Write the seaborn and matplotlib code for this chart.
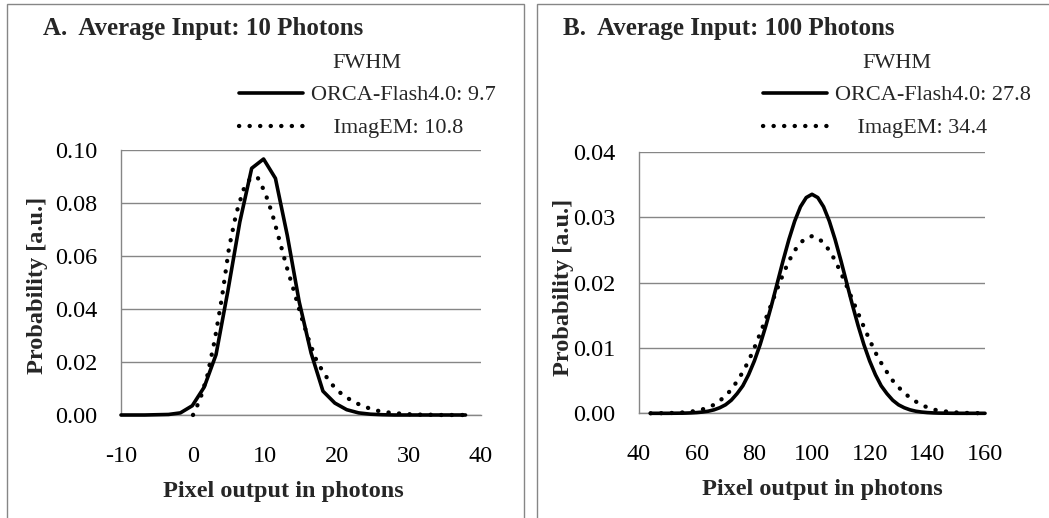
import numpy as np
import pandas as pd
import matplotlib
matplotlib.use("Agg")
import matplotlib.pyplot as plt
import seaborn as sns
from matplotlib.ticker import FormatStrFormatter
from matplotlib.patches import Rectangle

# Panel A: average input 10 photons
a_orca_x = [-10.0, -8.35, -6.7, -5.05, -3.4, -1.75, -0.1, 1.55, 3.2, 4.85,
            6.5, 8.15, 9.8, 11.45, 13.1, 14.75, 16.4, 18.05, 19.7, 21.35,
            23.0, 24.65, 26.3, 27.95, 29.6, 31.25, 32.9, 34.55, 36.2, 37.85]
a_orca_y = [0.0, 0.0, 0.0, 0.0001, 0.0002, 0.0008, 0.0035, 0.0105, 0.0228, 0.0469,
            0.0728, 0.0931, 0.0966, 0.0893, 0.0677, 0.0427, 0.0234, 0.0090, 0.0045, 0.0020,
            0.0008, 0.0003, 0.0001, 0.0, 0.0, 0.0, 0.0, 0.0, 0.0, 0.0]
a_em_x = list(range(0, 39))
a_em_y = [0.0, 0.006, 0.015, 0.028, 0.044, 0.063, 0.076, 0.085, 0.0895, 0.0895,
          0.084, 0.076, 0.066, 0.056, 0.047, 0.0375, 0.029, 0.0215, 0.0165, 0.0125,
          0.0094, 0.0072, 0.0055, 0.0041, 0.003, 0.002, 0.0014, 0.001, 0.0007, 0.0005,
          0.0003, 0.0002, 0.0001, 0.0001, 0.0, 0.0, 0.0, 0.0, 0.0]

# Panel B: average input 100 photons
b_x = list(range(44, 161, 2))
b_orca_y = [0.0, 0.0, 0.0, 0.0, 0.00001, 0.00002, 0.00003, 0.00006, 0.00011, 0.00019,
            0.00032, 0.00053, 0.00085, 0.0013, 0.0020, 0.0030, 0.0042, 0.0059, 0.0080, 0.0105,
            0.0134, 0.0166, 0.0200, 0.0234, 0.0266, 0.0294, 0.0316, 0.0330, 0.0335, 0.0330,
            0.0316, 0.0294, 0.0266, 0.0234, 0.0200, 0.0166, 0.0134, 0.0105, 0.0080, 0.0059,
            0.0042, 0.0030, 0.0020, 0.0013, 0.00085, 0.00053, 0.00032, 0.00019, 0.00011, 0.00006,
            0.00003, 0.00002, 0.00001, 0.0, 0.0, 0.0, 0.0, 0.0, 0.0]
b_em_y = [0.0, 0.00001, 0.00002, 0.00003, 0.00006, 0.0001, 0.00015, 0.00025, 0.0004, 0.0006,
          0.0009, 0.0013, 0.0019, 0.0027, 0.0036, 0.0049, 0.0063, 0.0080, 0.0100, 0.0122,
          0.0145, 0.0168, 0.0191, 0.0213, 0.0233, 0.0249, 0.0261, 0.0268, 0.0271, 0.0268,
          0.0261, 0.0249, 0.0234, 0.0215, 0.0195, 0.0174, 0.0153, 0.0132, 0.0112, 0.0093,
          0.0077, 0.0063, 0.0050, 0.0040, 0.0031, 0.0024, 0.0018, 0.0013, 0.0009, 0.0006,
          0.0004, 0.0003, 0.0002, 0.00013, 0.00008, 0.00005, 0.00003, 0.00002, 0.00001]

titles = ["A.  Average Input: 10 Photons", "B.  Average Input: 100 Photons"]
orca_labels = ["ORCA-Flash4.0: 9.7", "ORCA-Flash4.0: 27.8"]
em_labels = ["    ImagEM: 10.8", "    ImagEM: 34.4"]

sns.set_style("white")
plt.rcParams['font.family'] = ['Liberation Serif', 'DejaVu Serif']
plt.rcParams['axes.unicode_minus'] = False
grey = '#868686'

fig = plt.figure(figsize=(10.49, 5.18), dpi=100)
W, H = 1049, 518

# chart-area frames (top, left and right edges; bottom runs off the image)
for x0, x1 in [(7, 524), (537, 1060)]:
    fig.patches.append(Rectangle((x0 / W, -0.2), (x1 - x0) / W, 1.2 - 4 / H,
                                 transform=fig.transFigure, fill=False,
                                 edgecolor=grey, linewidth=1.0))

ax_a = fig.add_axes([121 / W, 1 - 415 / H, 360 / W, 265 / H])
ax_b = fig.add_axes([639 / W, 1 - 413.3 / H, 346 / W, 261.5 / H])

panels = [
    (ax_a, a_orca_x, a_orca_y, a_em_x, a_em_y, (-10, 40), np.arange(-10, 41, 10), (0, 0.10), np.arange(0, 0.101, 0.02)),
    (ax_b, b_x, b_orca_y, b_x, b_em_y, (40, 160), np.arange(40, 161, 20), (0, 0.04), np.arange(0, 0.041, 0.01)),
]

for i, (ax, ox, oy, ex, ey, xl, xt, yl, yt) in enumerate(panels):
    sns.lineplot(x=ox, y=oy, ax=ax, color='black', linewidth=2.6,
                 label=orca_labels[i], clip_on=False, zorder=4)
    sns.lineplot(x=ex, y=ey, ax=ax, color='black', linewidth=3.1,
                 label=em_labels[i], clip_on=False, zorder=4)
    dotted = ax.get_lines()[-1]
    dotted.set_linestyle((0, (0.05, 2.4)))
    dotted.set_dash_capstyle('round')
    ax.set_xlim(*xl)
    ax.set_ylim(*yl)
    ax.set_xticks(xt)
    ax.set_yticks(yt)
    ax.yaxis.set_major_formatter(FormatStrFormatter('%.2f'))
    ax.grid(axis='y', color=grey, linewidth=1.0)
    ax.grid(axis='x', visible=False)
    for s in ['top', 'right']:
        ax.spines[s].set_visible(False)
    for s in ['left', 'bottom']:
        ax.spines[s].set_color(grey)
        ax.spines[s].set_linewidth(1.0)
    ax.tick_params(axis='both', length=0, labelsize=17.5, colors='black')
    ax.tick_params(axis='y', pad=17)
    ax.tick_params(axis='x', pad=22)
    ax.set_xlabel("Pixel output in photons", fontsize=17.5, fontweight='bold')
    ax.set_ylabel("Probability [a.u.]", fontsize=17.5, fontweight='bold')
    ax.xaxis.label.set_va('center')
    ax.yaxis.label.set_va('center')

ax_a.xaxis.set_label_coords(0.45, -0.29)
ax_a.yaxis.set_label_coords(-0.232, 0.49)
ax_b.xaxis.set_label_coords(0.53, -0.292)
ax_b.yaxis.set_label_coords(-0.217, 0.483)

fig.text(43 / W, 1 - 29 / H, titles[0], fontsize=18, fontweight='bold', va='center', ha='left')
fig.text(563 / W, 1 - 28 / H, titles[1], fontsize=18, fontweight='bold', va='center', ha='left')

for ax, cx in [(ax_a, 367), (ax_b, 897)]:
    leg = ax.legend(title="FWHM", loc='center', bbox_to_anchor=(cx / W, 1 - 96 / H),
                    bbox_transform=fig.transFigure, frameon=False, fontsize=16,
                    title_fontsize=16, handlelength=2.9, handletextpad=0.35,
                    labelspacing=0.55, borderpad=0)
    for h in leg.legend_handles:
        h.set_dash_capstyle('round')

fig.savefig("out.png", dpi=100, facecolor='white')
